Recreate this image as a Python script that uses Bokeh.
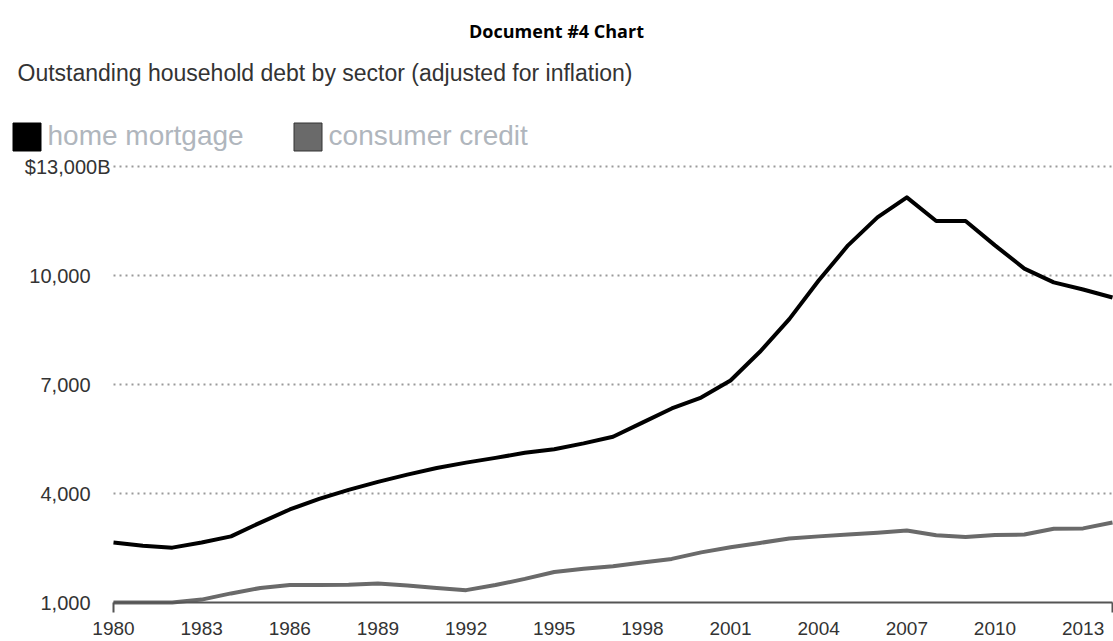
from bokeh.plotting import figure
from bokeh.models import Range1d, Label, Legend, LegendItem
from bokeh.core.properties import value
from bokeh.embed import file_html
from bokeh.resources import INLINE

# ---- data ----
years = list(range(1980, 2015))
home_mortgage = [2650, 2560, 2510, 2650, 2820, 3200, 3560, 3850, 4100, 4320,
                 4520, 4700, 4850, 4980, 5120, 5220, 5380, 5560, 5950, 6340,
                 6640, 7110, 7900, 8800, 9860, 10830, 11600, 12150, 11500, 11500,
                 10830, 10190, 9810, 9615, 9395]
consumer_credit = [1000, 1000, 1000, 1080, 1250, 1400, 1480, 1480, 1490, 1520,
                   1470, 1400, 1340, 1480, 1650, 1840, 1930, 2000, 2100, 2200,
                   2380, 2520, 2640, 2760, 2820, 2870, 2920, 2980, 2850, 2800,
                   2860, 2870, 3030, 3040, 3200]
x_ticks = list(range(1980, 2014, 3))
x_labels = [str(t) for t in x_ticks]
y_ticks = [1000, 4000, 7000, 10000, 13000]
y_labels = ["1,000", "4,000", "7,000", "10,000", "$13,000B"]
series_names = ["home mortgage", "consumer credit"]
title_text = "Document #4 Chart"
subtitle_text = "Outstanding household debt by sector (adjusted for inflation)"

FONT = "Liberation Sans"
W, H = 1113, 641

# layout: plot area in canvas pixels
PL, PR, PT, PB = 113, 1112, 166, 602
x0, x1 = years[0], years[-1]
y0, y1 = y_ticks[0], y_ticks[-1]
kx = (PR - PL) / (x1 - x0)
ky = (PB - PT) / (y1 - y0)
x_range = Range1d(x0 - PL / kx, x1 + (W - PR) / kx)
y_range = Range1d(y0 - (H - PB) / ky, y1 + PT / ky)

p = figure(width=W, height=H, output_backend="svg", toolbar_location=None,
           x_range=x_range, y_range=y_range, x_axis_location=None, y_axis_location=None,
           min_border=0)
p.min_border_left = p.min_border_right = p.min_border_top = p.min_border_bottom = 0
p.outline_line_color = None
p.grid.visible = False
p.background_fill_color = "white"
p.border_fill_color = "white"

# dotted gridlines
p.segment(x0=[x0] * 4, x1=[x1] * 4, y0=y_ticks[1:], y1=y_ticks[1:],
          line_color="#9a9a9a", line_dash="2 4", line_width=2)

# series lines
p.line(years, home_mortgage, line_color="#000000", line_width=4, line_join="round")
p.line(years, consumer_credit, line_color="#6a6a6a", line_width=4, line_join="round")

# x axis line + end ticks
p.segment(x0=[x0], x1=[x1], y0=[y0], y1=[y0], line_color="#555555", line_width=2)
tick_len = 10 / ky
p.segment(x0=[x0, x1], x1=[x0, x1], y0=[y0, y0], y1=[y0 - tick_len] * 2,
          line_color="#555555", line_width=2)

# year labels
p.text(x=x_ticks, y=[y0] * len(x_ticks), text=x_labels, y_offset=26,
       text_align="center", text_baseline="middle", text_font=value(FONT),
       text_font_size="19px", text_color="#333333")

# y labels
p.text(x=[x0] * len(y_ticks), y=y_ticks, text=y_labels, x_offset=[-23, -23, -23, -23, -3],
       text_align="right", text_baseline="middle", text_font=value(FONT),
       text_font_size="20px", text_color="#333333")

# legend swatches (single off-view point so the legend has a glyph to draw)
off = [x_range.start - 100]
q1 = p.quad(left=off, right=off, top=[y0], bottom=[y0], fill_color="#000000", line_color="#000000")
q2 = p.quad(left=off, right=off, top=[y0], bottom=[y0], fill_color="#6a6a6a", line_color="#333333")
legend = Legend(items=[LegendItem(label=series_names[0], renderers=[q1]),
                       LegendItem(label=series_names[1], renderers=[q2])],
                orientation="horizontal", location=(8.5, 487.5),
                padding=0, margin=0, spacing=46, label_standoff=4,
                glyph_width=35, glyph_height=35, label_height=35,
                label_text_font=FONT, label_text_font_size="28px",
                label_text_color="#b0b6bd", label_text_baseline="middle",
                border_line_color=None, background_fill_alpha=0)
p.add_layout(legend, "center")

# titles
p.add_layout(Label(x=556, y=H - 30, x_units="screen", y_units="screen", text=title_text,
                   text_align="center", text_baseline="middle", text_font="Open Sans",
                   text_font_style="bold", text_font_size="18px", text_color="#000000"))
p.add_layout(Label(x=17, y=H - 72, x_units="screen", y_units="screen", text=subtitle_text,
                   text_align="left", text_baseline="middle", text_font=FONT,
                   text_font_size="23px", text_color="#333333"))

open("out.html", "w").write(file_html(p, INLINE))
